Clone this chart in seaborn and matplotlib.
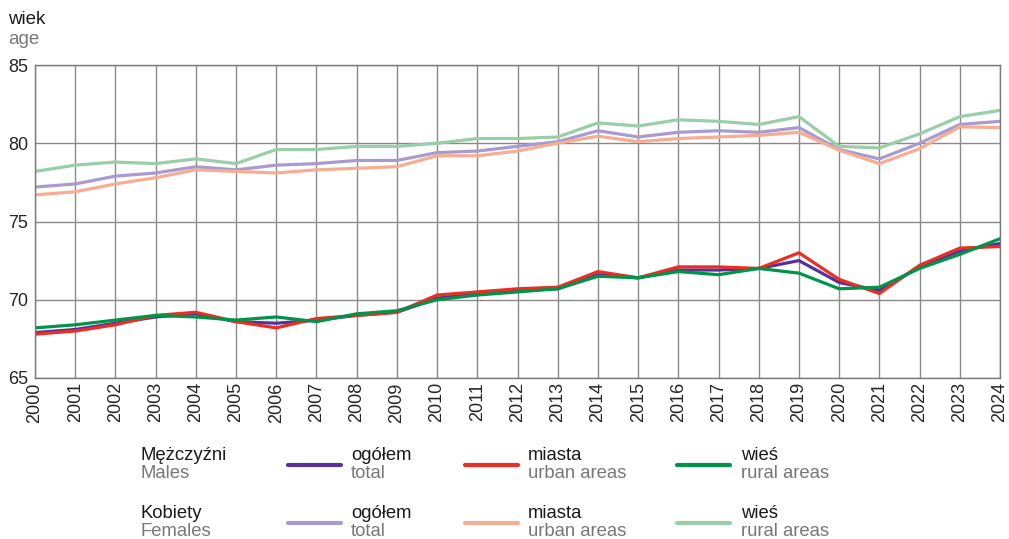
import matplotlib
matplotlib.use("Agg")
import matplotlib.pyplot as plt
from matplotlib.lines import Line2D
import seaborn as sns
import pandas as pd

# data
years = list(range(2000, 2025))

males_total = [67.9, 68.1, 68.5, 68.9, 69.1, 68.6, 68.5, 68.7, 69.0, 69.2, 70.1, 70.4, 70.6,
               70.7, 71.6, 71.4, 71.9, 71.9, 72.0, 72.5, 71.1, 70.6, 72.1, 73.1, 73.6]
males_urban = [67.8, 68.0, 68.4, 69.0, 69.2, 68.6, 68.2, 68.8, 69.0, 69.2, 70.3, 70.5, 70.7,
               70.8, 71.8, 71.4, 72.1, 72.1, 72.0, 73.0, 71.3, 70.4, 72.2, 73.3, 73.4]
males_rural = [68.2, 68.4, 68.7, 69.0, 68.9, 68.7, 68.9, 68.6, 69.1, 69.3, 70.0, 70.3, 70.5,
               70.7, 71.5, 71.4, 71.8, 71.6, 72.0, 71.7, 70.7, 70.8, 72.0, 72.9, 73.9]
females_total = [77.2, 77.4, 77.9, 78.1, 78.5, 78.3, 78.6, 78.7, 78.9, 78.9, 79.4, 79.5, 79.8,
                 80.1, 80.8, 80.4, 80.7, 80.8, 80.7, 81.0, 79.6, 79.0, 80.0, 81.2, 81.4]
females_urban = [76.7, 76.9, 77.4, 77.8, 78.3, 78.2, 78.1, 78.3, 78.4, 78.5, 79.2, 79.2, 79.5,
                 80.0, 80.45, 80.1, 80.3, 80.4, 80.5, 80.7, 79.55, 78.7, 79.65, 81.05, 81.0]
females_rural = [78.2, 78.6, 78.8, 78.7, 79.0, 78.7, 79.6, 79.6, 79.8, 79.8, 80.0, 80.3, 80.3,
                 80.4, 81.3, 81.1, 81.5, 81.4, 81.2, 81.7, 79.8, 79.7, 80.6, 81.7, 82.1]

series = {
    "K ogółem": females_total,
    "K miasta": females_urban,
    "K wieś": females_rural,
    "M ogółem": males_total,
    "M miasta": males_urban,
    "M wieś": males_rural,
}
colors = {
    "K ogółem": "#a99bcf",
    "K miasta": "#f5ae91",
    "K wieś": "#98cfa9",
    "M ogółem": "#55329a",
    "M miasta": "#ec2d24",
    "M wieś": "#00944a",
}

rows = []
for name, vals in series.items():
    for y, v in zip(years, vals):
        rows.append({"year": y, "value": v, "series": name})
df = pd.DataFrame(rows)

sns.set_style("white")
plt.rcParams["font.family"] = ["Liberation Sans", "DejaVu Sans"]

fig = plt.figure(figsize=(10.09, 5.39), dpi=100)
ax = fig.add_axes([35 / 1009, 1 - 378 / 539, 965 / 1009, 313 / 539])

sns.lineplot(data=df, x="year", y="value", hue="series", palette=colors,
             hue_order=list(series.keys()), linewidth=2.3, ax=ax, legend=False)

ax.set_xlim(2000, 2024)
ax.set_ylim(65, 85)
ax.set_xticks(years)
ax.set_xticklabels([str(y) for y in years], rotation=90, fontsize=13)
ax.set_yticks([65, 70, 75, 80, 85])
ax.set_yticklabels(["65", "70", "75", "80", "85"], fontsize=13)
ax.grid(True, color="#8a8a8a", linewidth=1)
ax.set_axisbelow(True)
for s in ax.spines.values():
    s.set_color("#7a7a7a")
    s.set_linewidth(1)
ax.tick_params(axis="x", length=0, pad=3)
ax.tick_params(axis="y", length=0, pad=5)
ax.set_xlabel("")
ax.set_ylabel("")

fig.text(8 / 1009, 1 - 19 / 539, "wiek", fontsize=13.5, color="#1a1a1a", va="center")
fig.text(8 / 1009, 1 - 40 / 539, "age", fontsize=13.5, color="#777777", va="center")

# legend built by hand
row_y = [455, 513]
groups = [("Mężczyźni", "Males", ["M ogółem", "M miasta", "M wieś"]),
          ("Kobiety", "Females", ["K ogółem", "K miasta", "K wieś"])]
labels = [("ogółem", "total"), ("miasta", "urban areas"), ("wieś", "rural areas")]
line_x = [(288, 341), (465, 518), (677, 730)]
text_x = [351, 528, 741]
for (pl, en, keys), ry in zip(groups, row_y):
    fig.text(140 / 1009, 1 - ry / 539, pl, fontsize=13.3, color="#1a1a1a", va="center")
    fig.text(140 / 1009, 1 - (ry + 19) / 539, en, fontsize=13.3, color="#777777", va="center")
    for key, (x0, x1), tx, (lp, le) in zip(keys, line_x, text_x, labels):
        ly = 1 - (ry + 10) / 539
        fig.add_artist(Line2D([x0 / 1009, x1 / 1009], [ly, ly], color=colors[key],
                              linewidth=3, transform=fig.transFigure))
        fig.text(tx / 1009, 1 - ry / 539, lp, fontsize=13.3, color="#1a1a1a", va="center")
        fig.text(tx / 1009, 1 - (ry + 19) / 539, le, fontsize=13.3, color="#777777", va="center")

fig.savefig("out.png", dpi=100)
